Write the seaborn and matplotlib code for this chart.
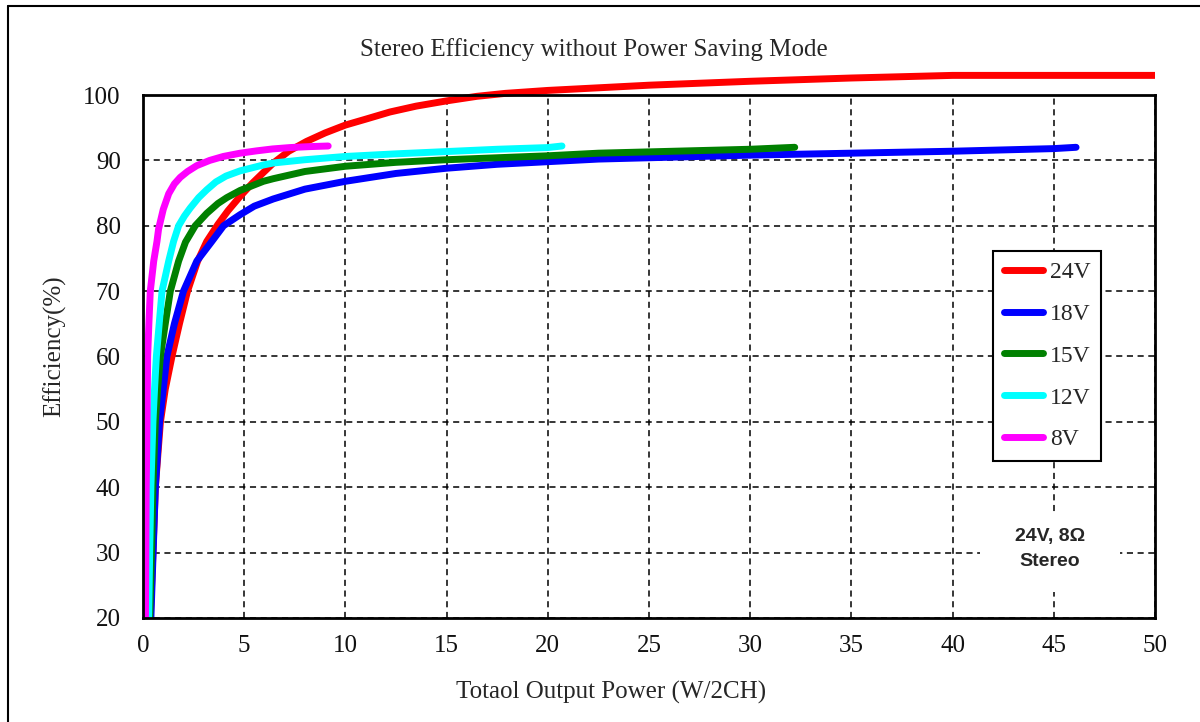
import numpy as np
import pandas as pd
import seaborn as sns
import matplotlib
matplotlib.use('Agg')
from matplotlib import pyplot as plt
from matplotlib.lines import Line2D
from matplotlib.patches import Rectangle

# Data
supplies = ['24V', '18V', '15V', '12V', '8V']
colors = ['#ff0000', '#0000ff', '#008000', '#00ffff', '#ff00ff']

power_24v = [0.36, 0.49, 0.61, 0.86, 1.1, 1.43, 1.8, 2.2, 2.7, 3.15, 3.7, 4.2, 4.8, 5.4, 6.0,
             6.44, 7.2, 8.08, 9.0, 10.0, 11.0, 12.2, 13.5, 15.0, 16.5, 17.9, 20.0, 22.5,
             25, 27.5, 30, 35, 40, 45, 50]
eff_24v = [20, 30, 40, 50, 55, 60, 65, 70, 74.6, 77.6, 80.2, 82.3, 84.5, 86.5, 88.3,
           89.6, 91.4, 92.9, 94.2, 95.4, 96.3, 97.4, 98.3, 99.1, 99.8, 100.25, 100.7, 101.1,
           101.5, 101.8, 102.1, 102.6, 103.0, 103.0, 103.0]

power_18v = [0.39, 0.5, 0.61, 0.82, 1.0, 1.18, 1.55, 2.0, 2.66, 3.4, 3.98, 4.8, 5.5, 6.44,
             8.0, 10.0, 12.5, 15, 17.5, 20, 22.5, 25, 30, 35, 40, 45, 46.1]
eff_18v = [20, 30, 40, 50, 55, 60, 65, 70, 74.6, 77.6, 80, 81.7, 83.0, 84.1,
           85.6, 86.8, 88.0, 88.8, 89.4, 89.8, 90.2, 90.4, 90.8, 91.1, 91.4, 91.8, 92.0]

power_15v = [0.33, 0.42, 0.49, 0.61, 0.72, 0.86, 1.1, 1.35, 1.76, 2.1, 2.58, 3.15, 3.7, 4.14,
             4.8, 5.95, 6.44, 8.0, 10, 12.5, 15, 17.5, 20, 22.5, 25, 30, 32.2]
eff_15v = [20, 30, 40, 50, 55, 60, 65, 70, 74.6, 77.5, 80, 81.9, 83.4, 84.3,
           85.4, 86.8, 87.2, 88.3, 89.1, 89.7, 90.1, 90.4, 90.7, 91.1, 91.3, 91.7, 92.0]

power_12v = [0.28, 0.33, 0.39, 0.49, 0.57, 0.66, 0.8, 0.94, 1.27, 1.51, 1.76, 2.05, 2.33, 2.75,
             3.15, 3.6, 4.1, 4.8, 5.95, 6.44, 8.0, 10, 12.5, 15, 17.5, 20, 20.7]
eff_12v = [20, 30, 40, 50, 55, 60, 65, 70, 74.6, 77.6, 80, 81.5, 82.7, 84.3,
           85.5, 86.7, 87.6, 88.4, 89.3, 89.6, 90.1, 90.6, 91.0, 91.35, 91.7, 91.96, 92.2]

power_8v = [0.12, 0.14, 0.16, 0.2, 0.23, 0.29, 0.36, 0.53, 0.69, 0.77, 1.0, 1.27, 1.55, 1.84,
            2.2, 2.66, 3.3, 3.97, 4.8, 5.6, 6.4, 7.26, 8.2, 9.15]
eff_8v = [20, 30, 40, 50, 60, 65, 70, 74.6, 77.6, 79.5, 82.5, 84.9, 86.4, 87.4,
          88.3, 89.2, 90.0, 90.6, 91.1, 91.45, 91.75, 91.96, 92.1, 92.2]

x_ticks = list(range(0, 55, 5))
y_ticks = list(range(20, 110, 10))

# Long-form table for seaborn
series = [(power_24v, eff_24v), (power_18v, eff_18v), (power_15v, eff_15v),
          (power_12v, eff_12v), (power_8v, eff_8v)]
frames = []
for name, (p, e) in zip(supplies, series):
    frames.append(pd.DataFrame({'power': p, 'eff': e, 'supply': name}))
df = pd.concat(frames, ignore_index=True)

sns.set_style('white')
plt.rcParams['font.family'] = ['Liberation Serif', 'DejaVu Serif']

fig = plt.figure(figsize=(12, 7.22), dpi=100)
ax = fig.add_axes([143 / 1200, 1 - 618 / 722, 1012 / 1200, 523 / 722])

sns.lineplot(data=df, x='power', y='eff', hue='supply', hue_order=supplies,
             palette=colors, sort=False, estimator=None, linewidth=5,
             legend=False, ax=ax)

# let the 24V curve run above the 100% line, but cut all curves at the x axis
clip = Rectangle((0, 0), 1, 1.15, transform=ax.transAxes)
for line in ax.lines:
    line.set_solid_capstyle('round')
    line.set_solid_joinstyle('round')
    line.set_clip_path(clip)

ax.set_xlim(0, 50)
ax.set_ylim(20, 100)
ax.set_xticks(x_ticks)
ax.set_yticks(y_ticks)
ax.tick_params(axis='both', length=0, labelsize=18, colors='#111111')
ax.tick_params(axis='y', pad=16)
ax.tick_params(axis='x', pad=12)

ax.set_axisbelow(True)
ax.grid(True, color='black', linestyle=(0, (4, 3)), linewidth=1.1)
for s in ax.spines.values():
    s.set_visible(True)
    s.set_color('black')
    s.set_linewidth(2)

ax.set_xlabel('Totaol Output Power (W/2CH)', fontsize=18)
ax.set_ylabel('Efficiency(%)', fontsize=18)
ax.xaxis.set_label_coords(0.463, -0.143)
ax.yaxis.set_label_coords(-0.087, 0.52)
ax.xaxis.label.set_va('center')
ax.yaxis.label.set_va('center')

fig.text(594 / 1200, 1 - 50 / 722, 'Stereo Efficiency without Power Saving Mode',
         ha='center', va='center', fontsize=18)

leg = ax.legend(ax.lines[:5], supplies, loc='upper left',
                bbox_to_anchor=(0.840, 0.702), borderaxespad=0,
                fontsize=17, handlelength=1.65, handletextpad=0.3,
                labelspacing=0.86, borderpad=0.45, fancybox=False,
                framealpha=1, edgecolor='black')
leg.get_frame().set_linewidth(1.5)
for h in leg.get_lines():
    h.set_linewidth(5)
    h.set_solid_capstyle('round')

# white patch that breaks the grid behind the note
ax.add_patch(Rectangle((0.827, 0.050), 0.138, 0.147, transform=ax.transAxes,
                       facecolor='white', edgecolor='none', zorder=1))
ax.text(0.896, 0.132, '24V, 8Ω\nStereo', transform=ax.transAxes,
        ha='center', va='center', fontsize=14, fontweight='bold',
        family=['Liberation Sans', 'DejaVu Sans'], linespacing=1.55, zorder=3)

# border around the figure (top and left edges visible)
fig.add_artist(Line2D([8 / 1200, 8 / 1200], [0, 1 - 6 / 722], color='black', linewidth=1.5))
fig.add_artist(Line2D([8 / 1200, 1], [1 - 6 / 722, 1 - 6 / 722], color='black', linewidth=1.5))

plt.savefig('out.png', dpi=100)
plt.close(fig)
